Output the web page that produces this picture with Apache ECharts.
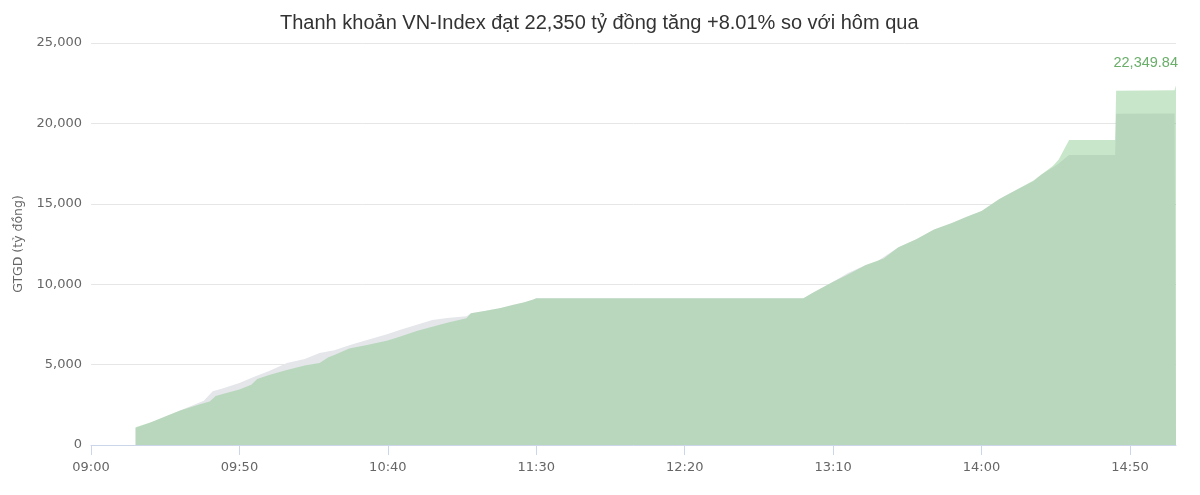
<!DOCTYPE html>
<html>
<head>
<meta charset="utf-8">
<script src="https://cdn.jsdelivr.net/npm/echarts@6/dist/echarts.min.js"></script>
<style>html,body{margin:0;padding:0;background:#fff}#c{width:1200px;height:495px}</style>
</head>
<body>
<div id="c"></div>
<script>
// Today's cumulative value (tỷ đồng)
const todayTimes = ['09:15:00','09:20:00','09:30:00','09:37:00','09:40:00','09:42:00','09:45:00','09:50:00','09:54:00','09:56:00',
  '10:00:00','10:06:00','10:12:00','10:17:00','10:20:00','10:22:00','10:27:00','10:33:00','10:40:00','10:44:00','10:50:00','10:55:00',
  '11:00:00','11:06:30','11:08:00','11:13:00','11:18:00','11:22:00','11:26:00','11:29:00','11:30:00','13:00:00','13:03:00','13:10:00',
  '13:15:00','13:21:00','13:27:00','13:32:00','13:38:00','13:44:00','13:50:00','13:55:00','14:00:00','14:06:00','14:11:00','14:17:30',
  '14:24:00','14:26:00','14:28:00','14:29:30','14:45:00','14:45:20','15:05:00','15:05:30'];
const todayValues = [1100,1400,2150,2550,2700,3050,3200,3450,3750,4100,
  4350,4660,4950,5100,5450,5600,6000,6220,6500,6735,7100,7360,
  7600,7880,8200,8350,8520,8700,8880,9050,9130,9130,9450,10150,
  10600,11200,11600,12300,12800,13400,13800,14200,14550,15300,15800,16450,
  17350,17750,18450,18970,18970,22030,22060,22349.84];

// Yesterday's cumulative value (tỷ đồng)
const yestTimes = ['09:15:00','09:20:00','09:30:00','09:38:00','09:41:00','09:44:00','09:50:00','09:55:00',
  '10:00:00','10:06:00','10:12:00','10:17:00','10:22:00','10:27:00','10:33:00','10:40:00','10:44:00','10:50:00','10:55:00',
  '11:00:00','11:06:30','11:08:00','11:13:00','11:18:00','11:22:00','11:26:00','11:29:00','11:30:00','13:00:00','13:03:00','13:10:00',
  '13:15:00','13:21:00','13:25:00','13:32:00','13:38:00','13:44:00','13:50:00','13:55:00','14:00:00','14:06:00','14:11:00','14:17:30',
  '14:20:00','14:24:00','14:26:00','14:29:30','14:45:00','14:45:20','15:05:00','15:05:30'];
const yestValues = [1050,1400,2150,2750,3350,3500,3850,4250,
  4600,5100,5350,5720,5900,6200,6530,6900,7150,7500,7770,
  7900,8000,8200,8350,8520,8700,8880,9050,9130,9130,9450,10150,
  10700,11200,11450,12300,12800,13400,13800,14200,14550,15300,15800,16400,
  16800,17250,17500,18030,18030,20600,20620,20692];

const xTickLabels = ['09:00','09:50','10:40','11:30','12:20','13:10','14:00','14:50'];
const yTickValues = [0,5000,10000,15000,20000,25000];

const titleText = 'Thanh khoản VN-Index đạt 22,350 tỷ đồng tăng +8.01% so với hôm qua';
const yAxisName = 'GTGD (tỷ đồng)';

function toMin(t){const p=t.split(':').map(Number);return (p[0]-9)*60+p[1]+(p[2]||0)/60;}
function fmtTime(v){const h=9+Math.floor(v/60), m=Math.round(v%60);return String(h).padStart(2,'0')+':'+String(m).padStart(2,'0');}
const xTicks = xTickLabels.map(t=>toMin(t+':00'));

const todayData = todayTimes.map((t,i)=>{
  const item={value:[toMin(t),todayValues[i]]};
  if(i===todayTimes.length-1){
    item.label={show:true,position:'top',align:'right',distance:15,offset:[2,0],color:'#6aae6a',fontSize:14.5,
      fontFamily:'Liberation Sans, Arial, sans-serif',
      formatter:p=>p.value[1].toLocaleString('en-US',{minimumFractionDigits:2,maximumFractionDigits:2})};
  }
  return item;
});
const yestData = yestTimes.map((t,i)=>[toMin(t),yestValues[i]]);

const chart = echarts.init(document.getElementById('c'),null,{renderer:'canvas'});
chart.setOption({
  animation:false,
  backgroundColor:'#fff',
  title:{text:titleText,left:275,top:8,textStyle:{fontFamily:'Liberation Sans, Arial, sans-serif',fontSize:20,fontWeight:'normal',color:'#333'}},
  grid:{left:91,right:24,top:43,bottom:50},
  xAxis:{type:'value',min:0,max:toMin('15:05:30'),
    axisLine:{show:true,lineStyle:{color:'#ccd6eb'}},
    axisTick:{show:true,length:10,lineStyle:{color:'#ccd6eb'},customValues:xTicks},
    axisLabel:{margin:16,color:'#666',fontSize:13,fontFamily:'DejaVu Sans, Verdana, sans-serif',customValues:xTicks,formatter:v=>fmtTime(v)},
    splitLine:{show:false}},
  yAxis:{type:'value',min:0,max:25000,interval:5000,
    name:yAxisName,nameLocation:'middle',nameGap:64,nameRotate:90,
    nameTextStyle:{color:'#666',fontSize:12.5,fontFamily:'DejaVu Sans, Verdana, sans-serif'},
    axisLine:{show:false},axisTick:{show:false},
    axisLabel:{margin:9,color:'#666',fontSize:13,fontFamily:'DejaVu Sans, Verdana, sans-serif',formatter:v=>v.toLocaleString('en-US')},
    splitLine:{lineStyle:{color:'#e6e6e6'}}},
  series:[
    {type:'line',name:'Hôm qua',data:yestData,showSymbol:false,silent:true,z:1,
     lineStyle:{width:0,opacity:0},areaStyle:{color:'#e4e6ea',opacity:1}},
    {type:'line',name:'Hôm nay',data:todayData,symbol:'circle',symbolSize:1,showSymbol:true,silent:true,z:2,
     itemStyle:{color:'rgba(0,0,0,0)',borderWidth:0},
     lineStyle:{width:0,opacity:0},areaStyle:{color:'rgb(117,192,120)',opacity:0.4}}
  ]
});
</script>
</body>
</html>
